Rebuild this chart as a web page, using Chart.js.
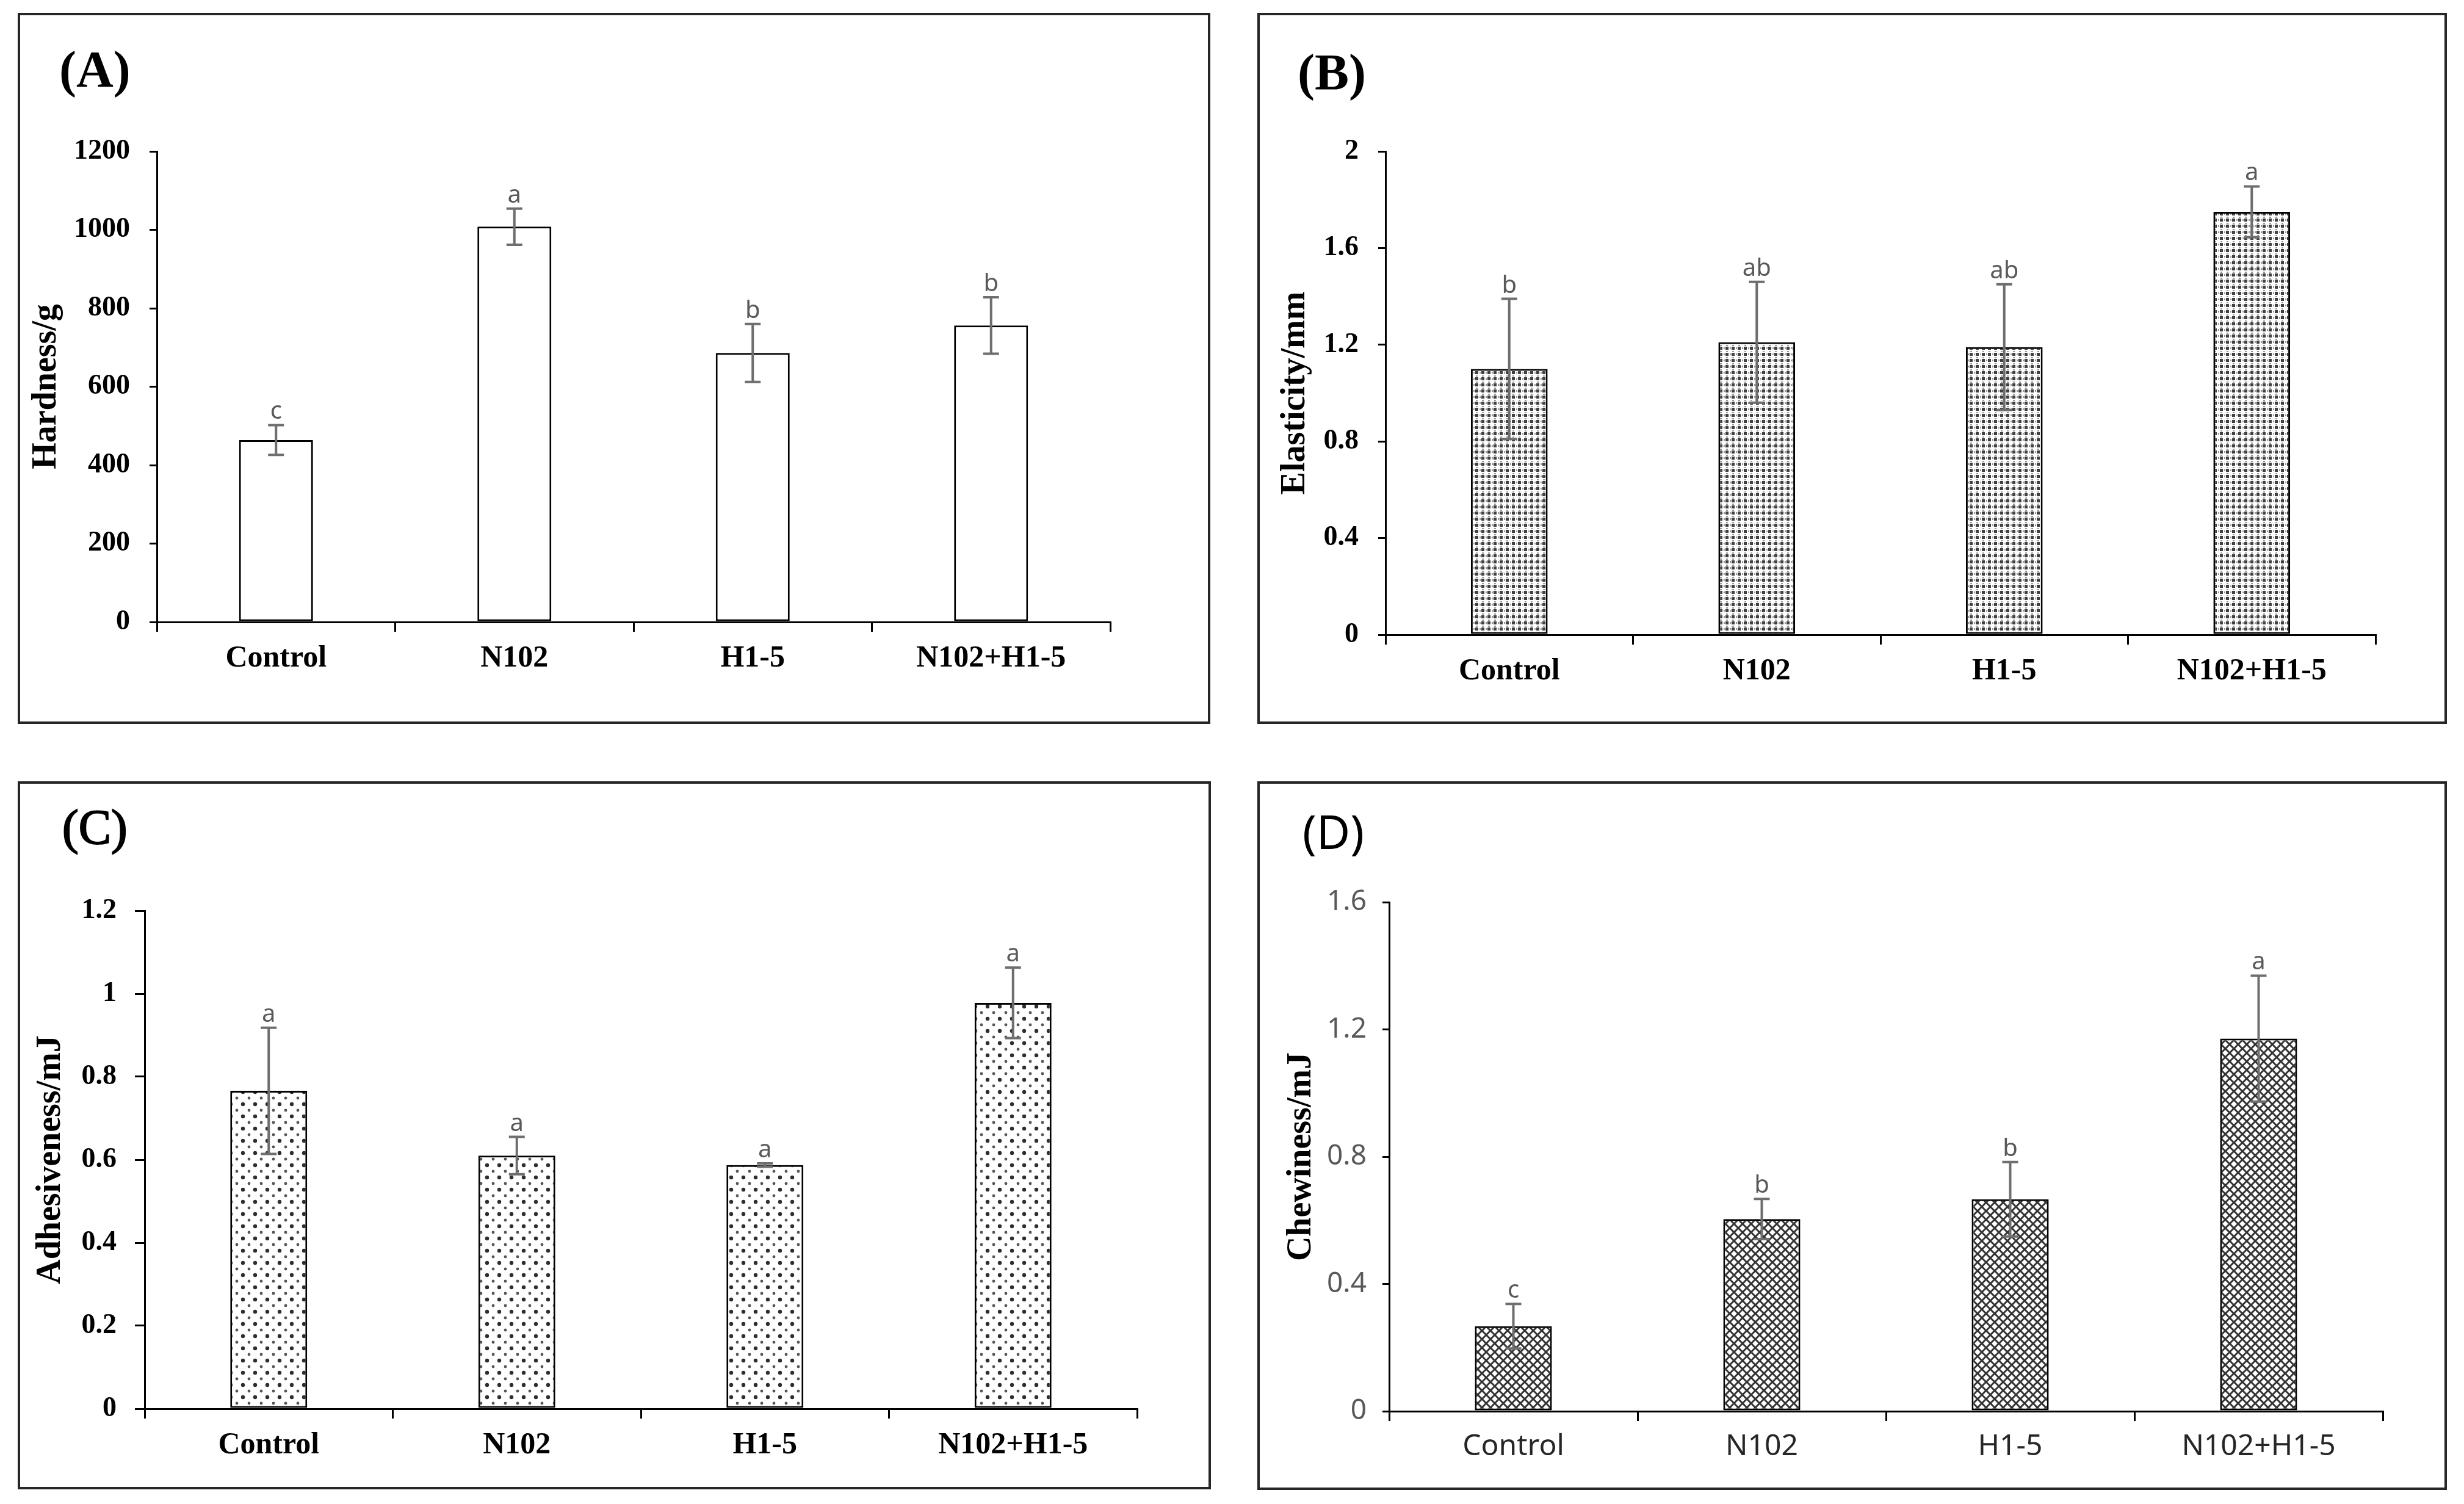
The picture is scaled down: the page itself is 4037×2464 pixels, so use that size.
<!DOCTYPE html>
<html>
<head>
<meta charset="utf-8">
<script src="https://cdn.jsdelivr.net/npm/chart.js@4.4.0/dist/chart.umd.min.js"></script>
<style>
  html, body { margin: 0; padding: 0; background: #fff; }
  body { width: 4037px; height: 2464px; position: relative; overflow: hidden; }
  .panel { position: absolute; box-sizing: border-box; border: 4px solid #262626; background: #fff; }
  .plot { position: absolute; left: 0; top: 0; right: 0; bottom: 0; }
  .tag { position: absolute; line-height: 1; white-space: nowrap; color: #000; }
</style>
</head>
<body>

<div class="panel" id="boxA" style="left:29px;top:21px;width:1954px;height:1165px"><div class="plot"><canvas id="chartA"></canvas></div></div>
<div class="panel" id="boxB" style="left:2060px;top:21px;width:1949px;height:1165px"><div class="plot"><canvas id="chartB"></canvas></div></div>
<div class="panel" id="boxC" style="left:29px;top:1280px;width:1955px;height:1160px"><div class="plot"><canvas id="chartC"></canvas></div></div>
<div class="panel" id="boxD" style="left:2060px;top:1280px;width:1949px;height:1161px"><div class="plot"><canvas id="chartD"></canvas></div></div>

<div class="tag" style="left:97px;top:65px;font:bold 84px 'Liberation Serif'">(A)</div>
<div class="tag" style="left:2126px;top:70px;font:bold 84px 'Liberation Serif'">(B)</div>
<div class="tag" style="left:102px;top:1310px;font:normal 80px 'Liberation Serif';-webkit-text-stroke:2px #000">(C)</div>
<div class="tag" style="left:2134px;top:1310px;font:normal 76px 'Noto Sans'">(D)</div>

<script>
/* ---------------- data ---------------- */
const categories = ["Control", "N102", "H1-5", "N102+H1-5"];

const hardness = [464, 1008, 686, 756];
const hardnessErr = [38, 46, 74, 72];
const hardnessSig = ["c", "a", "b", "b"];
const hardnessTicks = [0, 200, 400, 600, 800, 1000, 1200];

const elasticity = [1.10, 1.21, 1.19, 1.75];
const elasticityErr = [0.29, 0.25, 0.26, 0.105];
const elasticitySig = ["b", "ab", "ab", "a"];
const elasticityTicks = [0, 0.4, 0.8, 1.2, 1.6, 2];

const adhesiveness = [0.766, 0.61, 0.587, 0.978];
const adhesivenessErr = [0.152, 0.045, 0.004, 0.085];
const adhesivenessSig = ["a", "a", "a", "a"];
const adhesivenessTicks = [0, 0.2, 0.4, 0.6, 0.8, 1, 1.2];

const chewiness = [0.267, 0.604, 0.666, 1.171];
const chewinessErr = [0.07, 0.063, 0.117, 0.198];
const chewinessSig = ["c", "b", "b", "a"];
const chewinessTicks = [0, 0.4, 0.8, 1.2, 1.6];

/* ---------------- fill patterns ---------------- */
function makeTile(size, draw) {
  const c = document.createElement("canvas");
  c.width = size;
  c.height = size;
  const g = c.getContext("2d");
  g.fillStyle = "#fff";
  g.fillRect(0, 0, size, size);
  draw(g, size);
  return document.createElement("canvas").getContext("2d").createPattern(c, "repeat");
}

// fine dot grid (B)
const fineDots = makeTile(10, (g) => {
  g.fillStyle = "#404040";
  g.fillRect(3, 3, 5, 5);
  g.fillStyle = "#999";
  g.fillRect(0, 4, 2, 3);
  g.fillRect(4, 0, 3, 2);
});

// staggered dots (C)
const sparseDots = makeTile(20, (g) => {
  g.fillStyle = "#2e2e2e";
  g.beginPath(); g.arc(5, 5, 3.2, 0, Math.PI * 2); g.fill();
  g.fillStyle = "#555";
  g.beginPath(); g.arc(15, 15, 2.4, 0, Math.PI * 2); g.fill();
});

// diamond cross-hatch (D)
const crossHatch = makeTile(14, (g, s) => {
  g.strokeStyle = "#333";
  g.lineWidth = 3;
  for (const k of [-s, 0, s]) {
    g.beginPath(); g.moveTo(k, 0); g.lineTo(k + s, s); g.stroke();
    g.beginPath(); g.moveTo(k, s); g.lineTo(k + s, 0); g.stroke();
  }
});

/* ---------------- error bars + letters ---------------- */
const errorBars = {
  id: "errorBars",
  afterDatasetsDraw(chart, args, opts) {
    const { ctx } = chart;
    const y = chart.scales.y;
    const meta = chart.getDatasetMeta(0);
    const values = chart.data.datasets[0].data;
    ctx.save();
    ctx.strokeStyle = "#6e6e6e";
    ctx.lineWidth = 4;
    ctx.fillStyle = "#595959";
    ctx.font = "40px 'Noto Sans'";
    ctx.textAlign = "center";
    ctx.textBaseline = "alphabetic";
    meta.data.forEach((bar, i) => {
      const yt = y.getPixelForValue(values[i] + opts.errors[i]);
      const yb = y.getPixelForValue(values[i] - opts.errors[i]);
      ctx.beginPath();
      ctx.moveTo(bar.x, yt); ctx.lineTo(bar.x, yb);
      ctx.moveTo(bar.x - 13, yt); ctx.lineTo(bar.x + 13, yt);
      ctx.moveTo(bar.x - 13, yb); ctx.lineTo(bar.x + 13, yb);
      ctx.stroke();
      ctx.fillText(opts.letters[i], bar.x, yt - 10);
    });
    ctx.restore();
  },
};

/* ---------------- chart builder ---------------- */
function buildChart(id, cfg) {
  const serifBold = { family: "Liberation Serif", weight: "bold" };
  return new Chart(document.getElementById(id), {
    type: "bar",
    data: {
      labels: categories,
      datasets: [{
        data: cfg.values,
        backgroundColor: cfg.fill,
        borderColor: "#000",
        borderWidth: 3,
        borderSkipped: false,
        barPercentage: 0.31,
        categoryPercentage: 1,
      }],
    },
    plugins: [errorBars],
    options: {
      responsive: true,
      maintainAspectRatio: false,
      animation: false,
      devicePixelRatio: 1,
      layout: { padding: { left: 0, top: cfg.top, right: cfg.right, bottom: 0 } },
      plugins: {
        legend: { display: false },
        tooltip: { enabled: false },
        errorBars: { errors: cfg.errors, letters: cfg.letters },
      },
      scales: {
        x: {
          afterFit: (s) => { s.height = cfg.xHeight; },
          grid: { offset: true, drawOnChartArea: false, drawTicks: true, tickLength: 16, color: "#000", lineWidth: 3 },
          border: { display: true, color: "#000", width: 3 },
          ticks: {
            autoSkip: false, maxRotation: 0, padding: 14,
            color: cfg.xColor || "#000",
            font: cfg.xFont || { ...serifBold, size: 50 },
          },
        },
        y: {
          min: cfg.ticks[0],
          max: cfg.ticks[cfg.ticks.length - 1],
          afterFit: (s) => { s.width = cfg.left; },
          afterBuildTicks: (s) => { s.ticks = cfg.ticks.map((v) => ({ value: v })); },
          grid: { drawOnChartArea: false, drawTicks: true, tickLength: cfg.tickLen || 12, color: "#000", lineWidth: 3 },
          border: { display: true, color: "#000", width: 3 },
          ticks: {
            padding: cfg.tickPad || 32,
            color: cfg.yColor || "#000",
            font: cfg.yFont || { ...serifBold, size: 46 },
            callback: (v) => String(Math.round(v * 10) / 10),
          },
          title: {
            display: true,
            text: cfg.title,
            color: "#000",
            font: { ...serifBold, size: 56 },
            padding: { top: cfg.titlePad, bottom: 0 },
          },
        },
      },
    },
  });
}

buildChart("chartA", {
  values: hardness, errors: hardnessErr, letters: hardnessSig, ticks: hardnessTicks,
  fill: "#fff", title: "Hardness/g",
  left: 224, right: 160, top: 223, xHeight: 163, titlePad: 10,
});

buildChart("chartB", {
  values: elasticity, errors: elasticityErr, letters: elasticitySig, ticks: elasticityTicks,
  fill: fineDots, title: "Elasticity/mm",
  left: 206, right: 113, top: 223, xHeight: 142, titlePad: 25,
});

buildChart("chartC", {
  values: adhesiveness, errors: adhesivenessErr, letters: adhesivenessSig, ticks: adhesivenessTicks,
  fill: sparseDots, title: "Adhesiveness/mJ",
  left: 204, right: 117, top: 208, xHeight: 128, titlePad: 17,
  tickLen: 16, tickPad: 30,
});

buildChart("chartD", {
  values: chewiness, errors: chewinessErr, letters: chewinessSig, ticks: chewinessTicks,
  fill: crossHatch, title: "Chewiness/mJ",
  left: 212, right: 101, top: 194, xHeight: 125, titlePad: 35,
  tickLen: 11, tickPad: 26,
  yColor: "#595959", yFont: { family: "Noto Sans", size: 46 },
  xColor: "#262626", xFont: { family: "Noto Sans", size: 48 },
});
</script>
</body>
</html>
